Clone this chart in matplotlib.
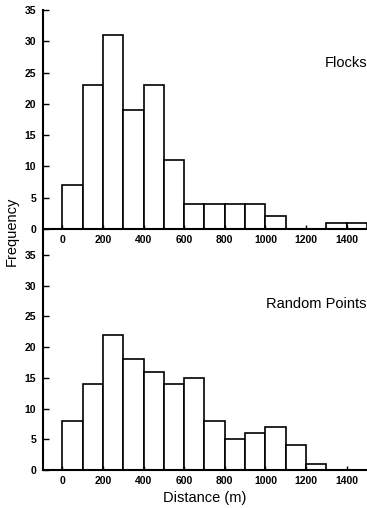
import numpy as np
import matplotlib.pyplot as plt

plt.rcParams["font.family"] = ["Liberation Sans", "DejaVu Sans"]

# bin left edges (m) and counts
bin_left = [0, 100, 200, 300, 400, 500, 600, 700, 800, 900, 1000, 1100, 1200, 1300, 1400]
flocks = [7, 23, 31, 19, 23, 11, 4, 4, 4, 4, 2, 0, 0, 1, 1]
random_pts = [8, 14, 22, 18, 16, 14, 15, 8, 5, 6, 7, 4, 1, 0, 0]
xticks = [0, 200, 400, 600, 800, 1000, 1200, 1400]
yticks = [0, 5, 10, 15, 20, 25, 30, 35]

W, H = 367, 508
fig = plt.figure(figsize=(W / 100, H / 100), dpi=100)

left = 43 / W
width = 1 - left
ax1 = fig.add_axes([left, (H - 229) / H, width, 219 / H])
ax2 = fig.add_axes([left, (H - 470) / H, width, 241 / H])


def style(ax, ytop):
    ax.set_facecolor("none")
    ax.set_xlim(-95, 1500)
    ax.set_ylim(0, ytop)
    for s in ["top", "right"]:
        ax.spines[s].set_visible(False)
    for s in ["left", "bottom"]:
        ax.spines[s].set_linewidth(1.5)
    ax.set_xticks(xticks)
    ax.set_yticks(yticks)
    ax.tick_params(direction="in", length=3, width=1, labelsize=7.5, pad=4)
    ax.tick_params(axis="y", length=4, pad=5)
    for lab in ax.get_xticklabels() + ax.get_yticklabels():
        lab.set_fontweight("bold")


ax1.bar(bin_left, flocks, width=100, align="edge", facecolor="white",
        edgecolor="black", linewidth=1.2)
style(ax1, 35)
ax1.text(1500, 26.5, "Flocks", ha="right", va="center", fontsize=10.5)

ax2.bar(bin_left, random_pts, width=100, align="edge", facecolor="white",
        edgecolor="black", linewidth=1.2)
style(ax2, 39.2)
ax2.text(1500, 27, "Random Points", ha="right", va="center", fontsize=10.5)
ax2.set_xlabel("Distance (m)", fontsize=10.5, labelpad=4)

fig.text(12 / W, (H - 231) / H, "Frequency", rotation=90, ha="center",
         va="center", fontsize=10.5)

fig.savefig("out.png", dpi=100)
